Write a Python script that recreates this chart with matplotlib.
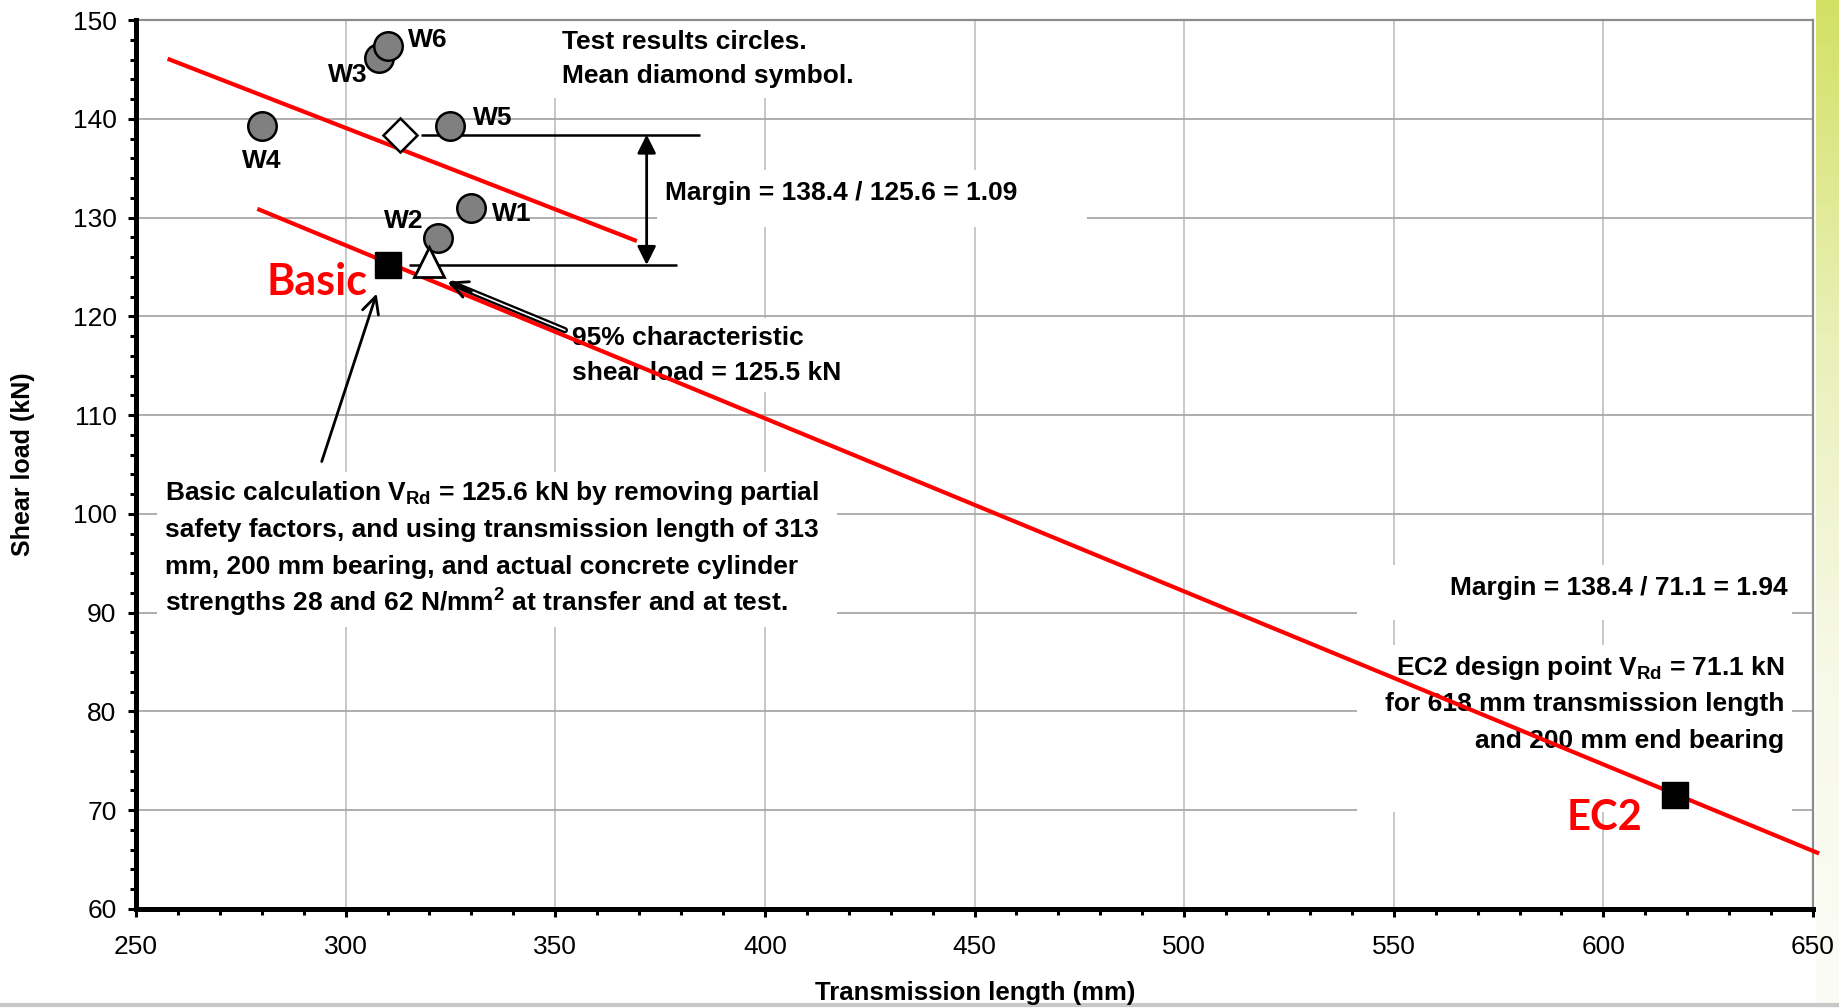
import numpy as np
import matplotlib.pyplot as plt
import matplotlib.patheffects as pe
from matplotlib.colors import LinearSegmentedColormap
from matplotlib.lines import Line2D
from matplotlib.patches import Rectangle

plt.rcParams['font.family'] = ['Liberation Sans', 'DejaVu Sans']
plt.rcParams['mathtext.fontset'] = 'custom'
plt.rcParams['mathtext.rm'] = 'Liberation Sans:bold'
plt.rcParams['mathtext.it'] = 'Liberation Sans:bold'
plt.rcParams['mathtext.bf'] = 'Liberation Sans:bold'

# test results (circles)
test_labels = ['W1', 'W2', 'W3', 'W4', 'W5', 'W6']
test_len = [330, 322, 308, 280, 325, 310]
test_load = [131.0, 127.9, 146.2, 139.3, 139.3, 147.4]

# mean (diamond) and 95% characteristic (triangle)
mean_len = 313
mean_load = 138.4
char_len = 320
char_load = 125.5

# design points (squares)
design_names = ['Basic', 'EC2']
design_len = [310, 617]
design_load = [125.2, 71.5]

# red trend lines
upper_x = [258, 369]
upper_y = [146.0, 127.7]
lower_x = [279.4, 651]
lower_y = [130.8, 65.7]

# label positions
test_label_xy = [(339.7, 130.4), (313.8, 129.7), (300.5, 144.4),
                 (279.9, 135.7), (335.2, 140.1), (319.6, 148.0)]
design_label_xy = [(293.1, 123.5), (600.2, 69.2)]

fig = plt.figure(figsize=(18.39, 10.08), dpi=100)
ax = fig.add_axes([136 / 1839, 1 - 909 / 1008, (1813 - 136) / 1839, (909 - 20) / 1008])
ax.set_zorder(2)

ax.set_xlim(250, 650)
ax.set_ylim(60, 150)
ax.set_xticks(np.arange(250, 651, 50))
ax.set_yticks(np.arange(60, 151, 10))
ax.set_xticks(np.arange(250, 651, 10), minor=True)
ax.set_yticks(np.arange(60, 151, 2), minor=True)
ax.grid(axis='x', which='major', color='#c4c4c4', lw=1.3)
ax.grid(axis='y', which='major', color='#a8a8a8', lw=1.3)
ax.set_axisbelow(True)

for s in ['left', 'bottom']:
    ax.spines[s].set_linewidth(3.6)
    ax.spines[s].set_color('black')
    ax.spines[s].set_zorder(6)
for s in ['top', 'right']:
    ax.spines[s].set_linewidth(1.6)
    ax.spines[s].set_color('#8c8c8c')

ax.tick_params(which='major', direction='out', length=6, width=2.2, labelsize=19)
ax.tick_params(which='minor', direction='out', length=4.5, width=2.2)
ax.tick_params(axis='x', which='major', pad=13)
ax.tick_params(axis='y', which='major', pad=8)

fig.text(23.5 / 1839, 1 - 464 / 1008, 'Shear load (kN)', fontsize=18,
         fontweight='bold', rotation=90, ha='center', va='center')
fig.text(975 / 1839, 1 - 993 / 1008, 'Transmission length (mm)', fontsize=18.5,
         fontweight='bold', ha='center', va='center')

# white text boxes (hide the grid under the notes)
for x0, y0, w, h in [(349.5, 142.1, 75, 7.9), (374.3, 129.0, 102.5, 5.8),
                     (352.0, 112.3, 64, 7.5), (255.0, 88.5, 162.2, 15.7),
                     (541.2, 89.3, 103.8, 5.5), (541.2, 69.8, 103.8, 16.9)]:
    ax.add_patch(Rectangle((x0, y0), w, h, fc='white', ec='none', zorder=2))

# red lines
ax.plot(upper_x, upper_y, color='red', lw=3, zorder=4, clip_on=False)
ax.plot(lower_x, lower_y, color='red', lw=3, zorder=4, clip_on=False)

# margin reference lines
ax.hlines(mean_load, 318, 384.5, color='black', lw=1.8, zorder=4)
ax.hlines(design_load[0], 315, 379, color='black', lw=1.8, zorder=4)
ax.annotate('', xy=(371.8, design_load[0]), xytext=(371.8, mean_load),
            arrowprops=dict(arrowstyle='<|-|>', color='black', lw=2,
                            mutation_scale=28, shrinkA=0, shrinkB=0), zorder=4)

# markers
ax.plot(test_len, test_load, 'o', ms=20.5, mfc='#808080', mec='black', mew=1.8, zorder=5)
ax.plot(mean_len, mean_load, 'D', ms=17.5, mfc='white', mec='black', mew=1.8, zorder=5)
ax.plot(char_len, char_load, '^', ms=22, mfc='white', mec='black', mew=2, zorder=5)
ax.plot(design_len, design_load, 's', ms=19, color='black', zorder=5)

for lab, (lx, ly) in zip(test_labels, test_label_xy):
    ax.text(lx, ly, lab, fontsize=19, fontweight='bold', ha='center', va='center', zorder=6)

for lab, (lx, ly), fs in zip(design_names, design_label_xy, [31, 30]):
    ax.text(lx, ly, lab, fontsize=fs, fontweight='bold', color='red',
            family=['Lato', 'DejaVu Sans'], ha='center', va='center', zorder=6)


def note(x, y0, lines, step, ha='left'):
    for i, line in enumerate(lines):
        ax.text(x, y0 - i * step, line, ha=ha, va='baseline',
                fontsize=19, fontweight='bold', zorder=3)


note(351.5, 147.1, ['Test results circles.', 'Mean diamond symbol.'], 3.5)
note(376.2, 131.8, ['Margin = 138.4 / 125.6 = 1.09'], 0)
note(354.1, 117.1, ['95% characteristic', 'shear load = 125.5 kN'], 3.5)
note(257.0, 101.4, ['Basic calculation V$_{Rd}$ = 125.6 kN by removing partial',
                    'safety factors, and using transmission length of 313',
                    'mm, 200 mm bearing, and actual concrete cylinder',
                    'strengths 28 and 62 N/mm$^2$ at transfer and at test.'], 3.75)
note(644.0, 91.8, ['Margin = 138.4 / 71.1 = 1.94'], 0, ha='right')
note(643.2, 83.7, ['EC2 design point V$_{Rd}$ = 71.1 kN',
                   'for 618 mm transmission length',
                   'and 200 mm end bearing'], 3.7, ha='right')

# arrows to the basic point and to the characteristic value
ax.annotate('', xy=(307.4, 122.3), xytext=(294.3, 105.3),
            arrowprops=dict(arrowstyle='->', color='black', lw=2,
                            mutation_scale=30, shrinkA=0, shrinkB=0), zorder=4)
ax.annotate('', xy=(325.5, 123.3), xytext=(352.3, 118.6),
            arrowprops=dict(arrowstyle='-', color='white', lw=1.2, shrinkA=0, shrinkB=0,
                            path_effects=[pe.Stroke(linewidth=4.5, foreground='black'),
                                          pe.Normal()]), zorder=4)
ax.annotate('', xy=(324.4, 123.5), xytext=(330, 122.5),
            arrowprops=dict(arrowstyle='->', color='black', lw=2,
                            mutation_scale=30, shrinkA=0, shrinkB=0), zorder=4)

# green strip on the right edge
sax = fig.add_axes([1816 / 1839, 0, 1 - 1816 / 1839, 1])
sax.set_zorder(0)
grad = np.linspace(0, 1, 256).reshape(-1, 1)
cmap = LinearSegmentedColormap.from_list('strip', ['#d2e163', '#e9f0b8', '#f7f9e8', '#fbfcf6'])
sax.imshow(grad, aspect='auto', cmap=cmap)
sax.axis('off')

fig.add_artist(Line2D([0, 1], [0.003, 0.003], color='#c8c8c8', lw=3))

fig.savefig('out.png', dpi=100)
